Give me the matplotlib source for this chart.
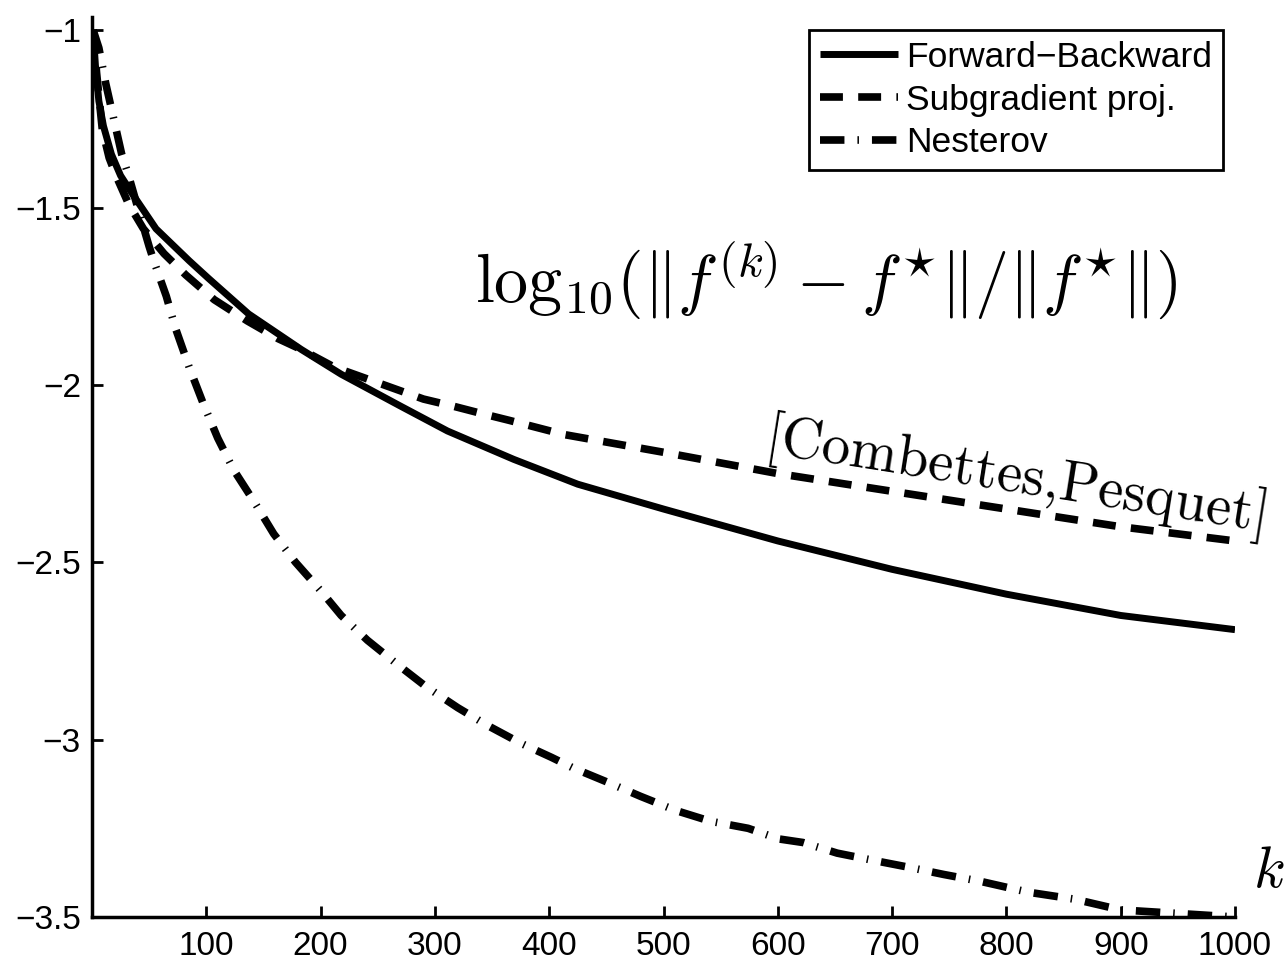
import matplotlib
matplotlib.use("Agg")
import matplotlib.pyplot as plt

# ---- data ----
k_fb = [1, 3, 6, 10, 17, 25, 35, 56, 85, 102, 137, 183, 218, 270, 311, 369, 425, 500, 600, 700, 800, 900, 1000]
y_fb = [-1.0, -1.1, -1.2, -1.27, -1.35, -1.41, -1.46, -1.56, -1.65, -1.70, -1.80, -1.90, -1.97, -2.06, -2.13, -2.21, -2.28,
        -2.35, -2.44, -2.52, -2.59, -2.65, -2.69]

k_sg = [1, 4, 9, 15, 21, 32, 45, 63, 82, 107, 136, 163, 183, 212, 238, 264, 290, 316, 340, 365, 413, 500, 600, 700,
        800, 900, 1000]
y_sg = [-1.0, -1.12, -1.28, -1.36, -1.41, -1.49, -1.56, -1.63, -1.69, -1.76, -1.82, -1.87, -1.90, -1.95, -1.98, -2.01,
        -2.04, -2.06, -2.08, -2.10, -2.14, -2.19, -2.25, -2.30, -2.35, -2.40, -2.44]

k_nes = [1, 6, 12, 19, 26, 32, 40, 50, 54, 65, 73, 85, 97, 110, 124, 142, 159, 178, 200, 218, 241, 268, 292, 320, 346,
         375, 402, 421, 451, 480, 511, 541, 574, 601, 622, 652, 683, 715, 745, 778, 819, 860, 900, 950, 1000]
y_nes = [-1.0, -1.05, -1.15, -1.25, -1.35, -1.41, -1.50, -1.61, -1.65, -1.75, -1.84, -1.95, -2.05, -2.15, -2.24, -2.33,
         -2.42, -2.50, -2.58, -2.65, -2.72, -2.79, -2.85, -2.91, -2.96, -3.01, -3.05, -3.08, -3.12, -3.16, -3.20, -3.23,
         -3.25, -3.28, -3.29, -3.32, -3.34, -3.36, -3.38, -3.40, -3.43, -3.45, -3.48, -3.49, -3.50]

labels = ["Forward\u2212Backward", "Subgradient proj.", "Nesterov"]
xticks = [100, 200, 300, 400, 500, 600, 700, 800, 900, 1000]
yticks = [-3.5, -3, -2.5, -2, -1.5, -1]
ytick_labels = ["\u22123.5", "\u22123", "\u22122.5", "\u22122", "\u22121.5", "\u22121"]

plt.rcParams['font.family'] = ['Liberation Sans', 'DejaVu Sans']
plt.rcParams['mathtext.fontset'] = 'cm'

fig = plt.figure(figsize=(12.85, 9.63), dpi=100)
ax = fig.add_axes([92 / 1285, 1 - 917 / 963, (1235 - 92) / 1285, (917 - 17) / 963])

lw = 5
l1, = ax.plot(k_fb, y_fb, color='black', lw=lw, solid_capstyle='butt', solid_joinstyle='round', label=labels[0])
l2, = ax.plot(k_sg, y_sg, color='black', lw=lw + 0.5, dash_capstyle='butt', label=labels[1])
l2.set_dashes((3.0, 2.0))
l3, = ax.plot(k_nes, y_nes, color='black', lw=lw + 0.5, dash_capstyle='butt', label=labels[2])
l3.set_dashes((3.2, 1.7, 0.2, 1.7))

ax.set_xlim(0, 1000)
ax.set_ylim(-3.5, -0.963)
ax.set_xticks(xticks)
ax.set_xticklabels([str(v) for v in xticks])
ax.set_yticks(yticks)
ax.set_yticklabels(ytick_labels)
ax.tick_params(direction='in', length=8, width=2, labelsize=24)
ax.tick_params(axis='x', pad=10)
ax.tick_params(axis='y', pad=8)
for s in ['top', 'right']:
    ax.spines[s].set_visible(False)
for s in ['left', 'bottom']:
    ax.spines[s].set_linewidth(2.5)

leg = ax.legend(loc='upper right', bbox_to_anchor=(1223 / 1285, 1 - 30 / 963), bbox_transform=fig.transFigure,
                borderaxespad=0, fontsize=25.5, handlelength=2.2, handletextpad=0.25, labelspacing=0.28,
                borderpad=0.3, fancybox=False, framealpha=1, edgecolor='black')
leg.get_frame().set_linewidth(2)

ax.text(475 / 1285, 1 - 302 / 963, r'$\mathrm{log}_{10}(\|f^{(k)}-f^{\star}\|/\|f^{\star}\|)$',
        transform=fig.transFigure, fontsize=49, ha='left', va='baseline')
ax.text(1017 / 1285, 1 - 478 / 963, '[Combettes,Pesquet]', transform=fig.transFigure, fontsize=41,
        family='cmr10', rotation=-9, rotation_mode='anchor', ha='center', va='center')
ax.text(1253 / 1285, 1 - 887 / 963, r'$k$', transform=fig.transFigure, fontsize=42, ha='left', va='baseline')

fig.savefig('out.png', dpi=100)
